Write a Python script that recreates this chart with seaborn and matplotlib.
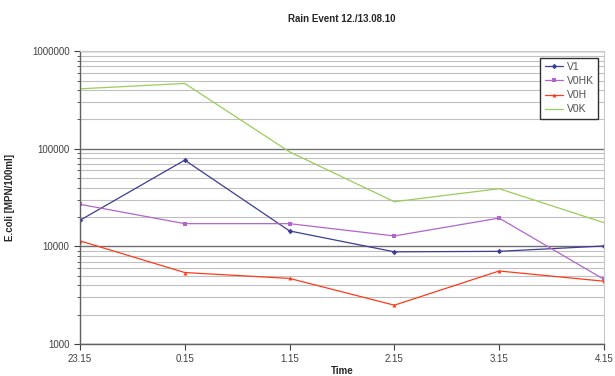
import matplotlib
matplotlib.use("Agg")
import matplotlib.pyplot as plt
from matplotlib.ticker import LogLocator, NullFormatter, FixedLocator
import seaborn as sns
import pandas as pd

times = ["23.15", "0.15", "1.15", "2.15", "3.15", "4.15"]
v1 = [18500, 76500, 14400, 8800, 8900, 10100]
v0hk = [27000, 17100, 17100, 12800, 19500, 4600]
v0h = [11400, 5400, 4700, 2500, 5600, 4400]
v0k = [411000, 467000, 93000, 28700, 39000, 17500]

series = {"V1": v1, "V0HK": v0hk, "V0H": v0h, "V0K": v0k}
colors = {"V1": "#3c3c96", "V0HK": "#b066cc", "V0H": "#ff3a1a", "V0K": "#9acd5a"}
markers = {"V1": "D", "V0HK": "s", "V0H": "^", "V0K": None}

frames = []
for name, vals in series.items():
    frames.append(pd.DataFrame({"pos": range(len(times)), "value": vals, "series": name}))
df = pd.concat(frames, ignore_index=True)

sns.set_style("white")
plt.rcParams["font.family"] = ["Liberation Sans", "DejaVu Sans"]

fig = plt.figure(figsize=(6.15, 3.76), dpi=100)
ax = fig.add_axes([0.130, 0.085, 0.852, 0.779])

for name in series:
    sub = df[df["series"] == name]
    sns.lineplot(data=sub, x="pos", y="value", ax=ax, color=colors[name],
                 marker=markers[name], markersize=2.8, markeredgewidth=0,
                 linewidth=0.9, label=name)

ax.set_yscale("log")
ax.set_ylim(1000, 1000000)
ax.set_xlim(0, len(times) - 1)
ax.yaxis.set_major_locator(LogLocator(base=10, numticks=10))
ax.yaxis.set_minor_locator(LogLocator(base=10, subs=range(2, 10), numticks=20))
ax.yaxis.set_minor_formatter(NullFormatter())
ax.yaxis.set_major_formatter(plt.FuncFormatter(lambda v, p: f"{int(round(v))}"))
ax.xaxis.set_major_locator(FixedLocator(range(len(times))))
ax.set_xticklabels(times)

ax.grid(True, which="major", axis="y", color="#707070", linewidth=1.0)
ax.grid(True, which="minor", axis="y", color="#c0c0c0", linewidth=0.8)
ax.set_axisbelow(True)

for side in ["left", "bottom"]:
    ax.spines[side].set_color("#606060")
    ax.spines[side].set_linewidth(1.0)
for side in ["top", "right"]:
    ax.spines[side].set_color("#c8c8c8")
    ax.spines[side].set_linewidth(0.8)

ax.tick_params(axis="both", which="major", labelsize=7, colors="#404040",
               direction="out", length=4, width=0.8, left=True, bottom=True)
ax.tick_params(axis="y", which="minor", direction="out", length=2.5, width=0.6,
               colors="#404040", left=True)

ax.set_title("Rain Event 12./13.08.10", fontsize=7, fontweight="bold", pad=21)
ax.set_xlabel("Time", fontsize=7, fontweight="bold", labelpad=1)
ax.set_ylabel("E.coli [MPN/100ml]", fontsize=7, fontweight="bold", labelpad=12)

leg = ax.legend(loc="upper right", bbox_to_anchor=(0.998, 0.995), fontsize=7.5,
                frameon=True, fancybox=False, handlelength=1.8, handletextpad=0.3,
                borderpad=0.4, labelspacing=0.4, framealpha=1)
leg.get_frame().set_edgecolor("#303030")
leg.get_frame().set_linewidth(1.0)
for t in leg.get_texts():
    t.set_color("#505050")

fig.savefig("out.png", dpi=100)
